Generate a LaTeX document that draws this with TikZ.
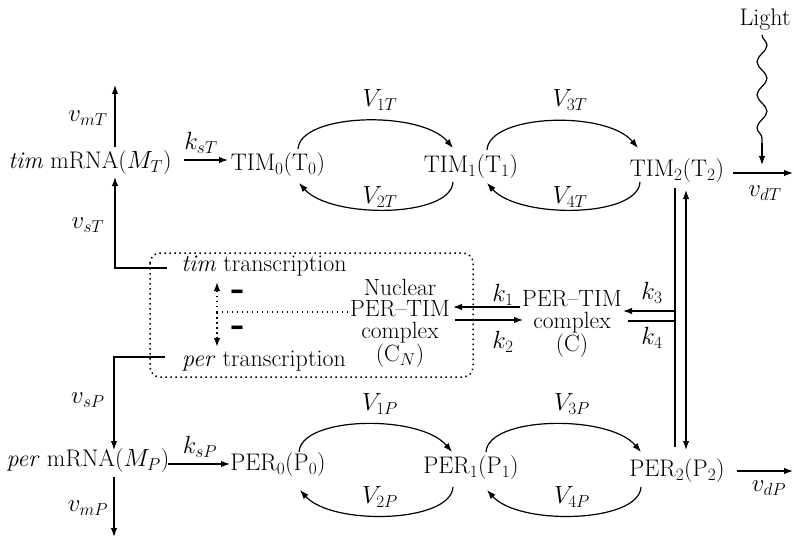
\documentclass[tikz,border=0pt]{standalone}
\usepackage{fontspec}
\newfontfamily\dashfont{DejaVu Sans}
\usetikzlibrary{arrows.meta,decorations.pathmorphing,calc}
\begin{document}
\begin{tikzpicture}[x=1pt,y=-1pt,
  every node/.style={font=\fontsize{24}{21}\selectfont, inner sep=0pt, align=center},
  stack/.style={font=\fontsize{23.5}{21.5}\selectfont},
  ln/.style={line width=1.2pt},
  arr/.style={line width=1.2pt, -{Latex[length=9pt,width=6.5pt]}},
  darr/.style={line width=1.2pt, {Latex[length=9pt,width=6.5pt]}-{Latex[length=9pt,width=6.5pt]}},
  dotln/.style={line width=1.5pt, dash pattern=on 1.5pt off 3.5pt},
  dotarr/.style={dotln, -{Latex[length=9pt,width=6.5pt]}},
  minus/.style={font=\fontsize{28}{28}\dashfont\bfseries}]
\useasboundingbox (0,0) rectangle (794,540);

% species
\node (light) at (765,20) {Light};
\node (MT) at (90,163) {\textit{tim} mRNA($M_T$)};
\node (T0) at (278,165) {TIM$_0$(T$_0$)};
\node (T1) at (471,167) {TIM$_1$(T$_1$)};
\node (T2) at (677,171) {TIM$_2$(T$_2$)};
\node (MP) at (88,461) {\textit{per} mRNA($M_P$)};
\node (P0) at (278,465) {PER$_0$(P$_0$)};
\node (P1) at (471,468) {PER$_1$(P$_1$)};
\node (P2) at (677,471) {PER$_2$(P$_2$)};
\node (timtr) at (264,266) {\textit{tim} transcription};
\node (pertr) at (264,361) {\textit{per} transcription};
\node[stack] (CN) at (400,323) {Nuclear\\PER--TIM\\complex\\(C$_N$)};
\node[stack] (C) at (572,324) {PER--TIM\\complex\\(C)};

% rate labels
\node (vmT) at (88,118) {$v_{mT}$};
\node (vsT) at (88,225) {$v_{sT}$};
\node (ksT) at (201,143) {$k_{sT}$};
\node (vdT) at (765,193) {$v_{dT}$};
\node (vsP) at (88,400) {$v_{sP}$};
\node (vmP) at (88,508) {$v_{mP}$};
\node (ksP) at (200,447) {$k_{sP}$};
\node (vdP) at (769,488) {$v_{dP}$};
\node (V1T) at (380,100) {$V_{1T}$};
\node (V2T) at (380,197) {$V_{2T}$};
\node (V3T) at (570,100) {$V_{3T}$};
\node (V4T) at (570,197) {$V_{4T}$};
\node (V1P) at (380,404) {$V_{1P}$};
\node (V2P) at (380,497) {$V_{2P}$};
\node (V3P) at (572,404) {$V_{3P}$};
\node (V4P) at (572,497) {$V_{4P}$};
\node (k1) at (503,295) {$k_1$};
\node (k2) at (503,342) {$k_2$};
\node (k3) at (652,293) {$k_3$};
\node (k4) at (652,338) {$k_4$};
\node[minus] (m1) at (237,295) {–};
\node[minus] (m2) at (237,331) {–};

% coordinates for free ends
\coordinate (mTout) at (115,85);
\coordinate (jT) at (115,268);
\coordinate (jP) at (114,357);
\coordinate (mPout) at (114,537);
\coordinate (dT) at (793,173);
\coordinate (dP) at (793,471);
\coordinate (lw0) at (762,35);
\coordinate (lw1) at (762,143);
\coordinate (lt) at (762,165);
\coordinate (k3s) at (675,311);
\coordinate (k4e) at (675,321);
\coordinate (br) at (217,312);

% mRNA arrows
\draw[arr] ($(MT)+(25,-16)$) -- (mTout);
\draw[arr] ($(timtr)+(-97,2)$) -- (jT) -- ($(MT)+(25,14)$);
\draw[arr] ($(pertr)+(-99,-4)$) -- (jP) -- ($(MP)+(26,-11)$);
\draw[arr] ($(MP)+(26,16)$) -- (mPout);
\draw[arr] ($(MT)+(94,-3)$) -- ($(T0)+(-50,-5)$);
\draw[arr] ($(MP)+(80,3)$) -- ($(P0)+(-48,-1)$);

% TIM phosphorylation cycle
\draw[arr] ($(T0)+(20,-16)$) .. controls +(2,-36) and +(-32,-38) .. ($(T1)+(-18,-19)$);
\draw[arr] ($(T1)+(-18,15)$) .. controls +(-2,36) and +(32,36) .. ($(T0)+(21,18)$);
\draw[arr] ($(T1)+(16,-17)$) .. controls +(2,-36) and +(-32,-38) .. ($(T2)+(-39,-23)$);
\draw[arr] ($(T2)+(-37,11)$) .. controls +(-2,36) and +(32,36) .. ($(T1)+(16,16)$);

% PER phosphorylation cycle
\draw[arr] ($(P0)+(21,-13)$) .. controls +(2,-36) and +(-32,-38) .. ($(P1)+(-19,-16)$);
\draw[arr] ($(P1)+(-18,19)$) .. controls +(-2,36) and +(32,36) .. ($(P0)+(22,25)$);
\draw[arr] ($(P1)+(15,-16)$) .. controls +(2,-36) and +(-32,-38) .. ($(P2)+(-36,-19)$);
\draw[arr] ($(P2)+(-36,16)$) .. controls +(-2,36) and +(32,36) .. ($(P1)+(16,22)$);

% degradation
\draw[arr] ($(T2)+(56,2)$) -- (dT);
\draw[arr] ($(P2)+(60,0)$) -- (dP);
\draw[ln, decorate, decoration={snake, amplitude=5pt, segment length=33pt}] (lw0) -- (lw1);
\draw[arr] (lw1) -- (lt);

% complex formation
\draw[ln] ($(T2)+(-2,17)$) -- ($(P2)+(-2,-24)$);
\draw[darr] ($(T2)+(9,19)$) -- ($(P2)+(9,-21)$);
\draw[arr] (k3s) -- ($(C)+(51,-13)$);
\draw[ln] ($(C)+(56,-3)$) -- (k4e);
\draw[arr] ($(C)+(-52,-17)$) -- ($(CN)+(53,-16)$);
\draw[arr] ($(CN)+(55,-3)$) -- ($(C)+(-49,-4)$);

% nucleus and repression
\draw[dotln, rounded corners=10pt] (150,253) rectangle (473,377);
\draw[dotln] ($(CN)+(-52,-11)$) -- (br);
\draw[dotarr] (br) -- ($(timtr)+(-47,16)$);
\draw[dotarr] (br) -- ($(pertr)+(-47,-14)$);
\end{tikzpicture}
\end{document}
